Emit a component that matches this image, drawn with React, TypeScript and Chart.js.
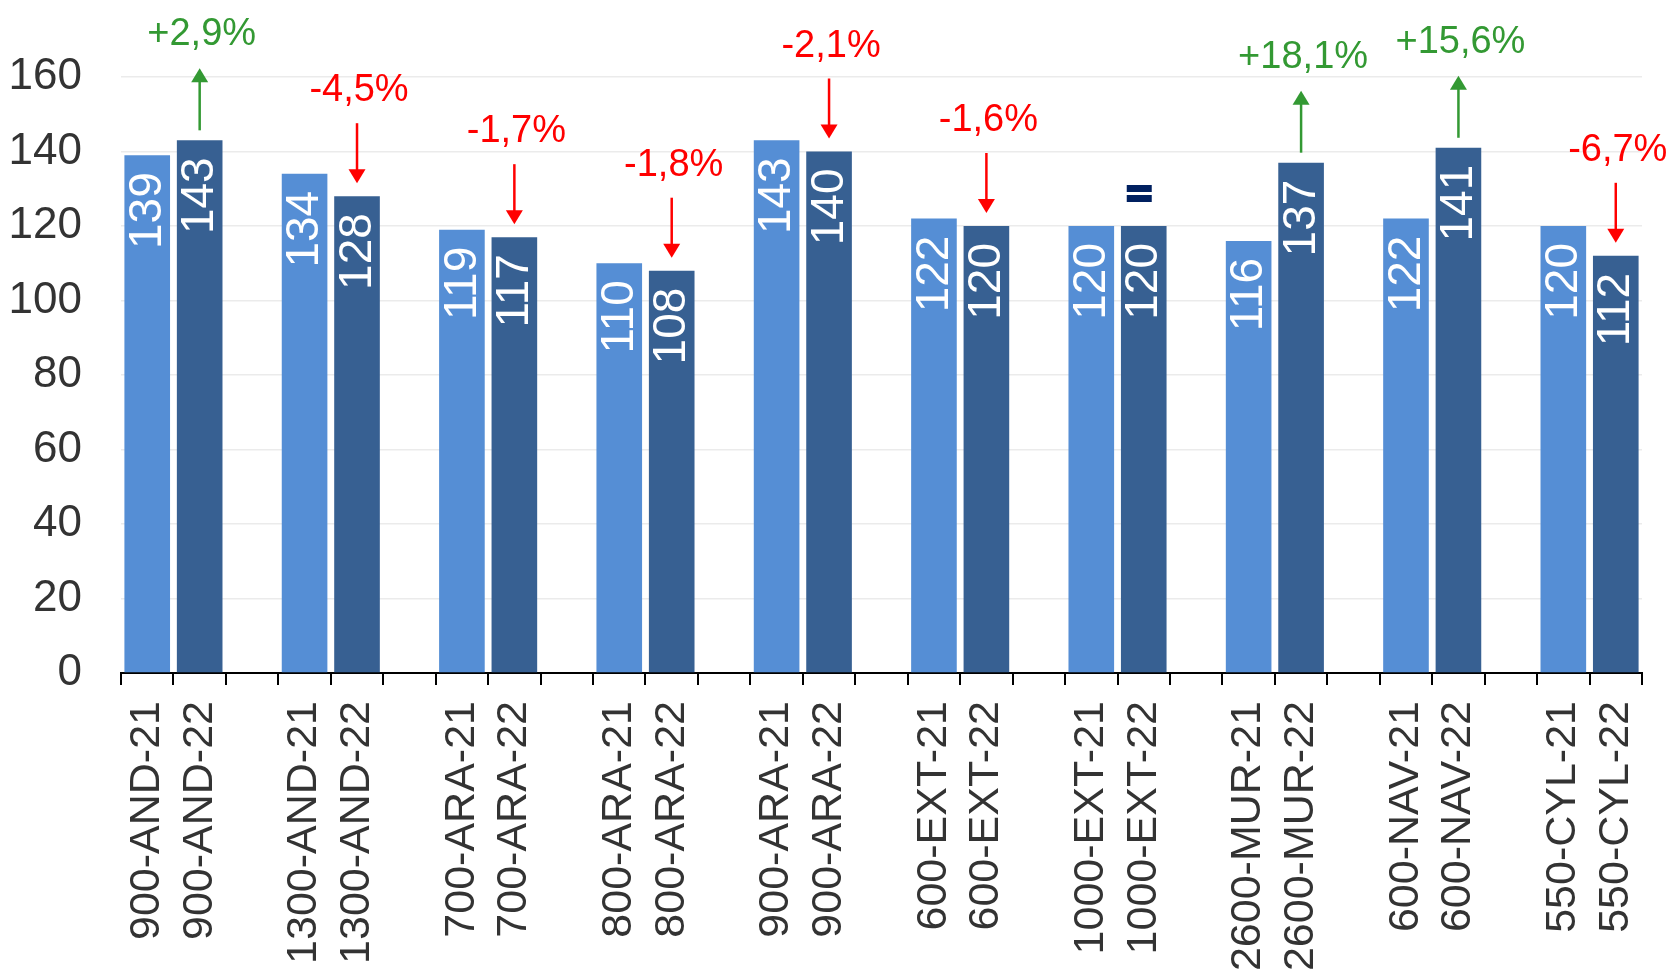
import React, { useEffect, useRef } from 'react';
import { Chart, registerables } from 'chart.js';

Chart.register(...registerables);

const groups = ['900-AND', '1300-AND', '700-ARA', '800-ARA', '900-ARA', '600-EXT', '1000-EXT', '2600-MUR', '600-NAV', '550-CYL'];
const values2021 = [139, 134, 119, 110, 143, 122, 120, 116, 122, 120];
const values2022 = [143, 128, 117, 108, 140, 120, 120, 137, 141, 112];
const changeLabels = ['+2,9%', '-4,5%', '-1,7%', '-1,8%', '-2,1%', '-1,6%', '=', '+18,1%', '+15,6%', '-6,7%'];
const yMin = 0;
const yMax = 160;
const yStep = 20;

const FONT = '"Liberation Sans", Arial, Helvetica, sans-serif';
const COLOR_21 = '#558ED5';
const COLOR_22 = '#376092';

// build slot-based category axis: 21, 22, blank, ...
const labels: string[] = [];
const data21: (number | null)[] = [];
const data22: (number | null)[] = [];
groups.forEach((g, i) => {
  labels.push(`${g}-21`);
  data21.push(values2021[i]);
  data22.push(null);
  labels.push(`${g}-22`);
  data21.push(null);
  data22.push(values2022[i]);
  if (i < groups.length - 1) {
    labels.push('');
    data21.push(null);
    data22.push(null);
  }
});

const valueLabelPlugin = {
  id: 'valueLabels',
  afterDatasetsDraw(chart: any) {
    const ctx = chart.ctx;
    ctx.save();
    ctx.fillStyle = '#ffffff';
    ctx.font = `46px ${FONT}`;
    ctx.textAlign = 'right';
    ctx.textBaseline = 'middle';
    chart.data.datasets.forEach((ds: any, di: number) => {
      const meta = chart.getDatasetMeta(di);
      meta.data.forEach((el: any, idx: number) => {
        const v = ds.data[idx];
        if (v === null || v === undefined) return;
        ctx.save();
        ctx.translate(el.x + 1, el.y + 17);
        ctx.rotate(-Math.PI / 2);
        ctx.fillText(String(v), 0, 0);
        ctx.restore();
      });
    });
    ctx.restore();
  },
};

const changePlugin = {
  id: 'changeArrows',
  afterDatasetsDraw(chart: any) {
    const ctx = chart.ctx;
    const meta = chart.getDatasetMeta(1);
    ctx.save();
    changeLabels.forEach((lab, i) => {
      const el = meta.data[i * 3 + 1];
      if (!el) return;
      const x = el.x;
      const top = el.y;
      if (lab === '=') {
        ctx.fillStyle = '#002060';
        ctx.fillRect(x - 17, top - 41, 25, 7);
        ctx.fillRect(x - 17, top - 31, 25, 7);
        return;
      }
      const up = lab.startsWith('+');
      const color = up ? '#339933' : '#FF0000';
      ctx.strokeStyle = color;
      ctx.fillStyle = color;
      ctx.lineWidth = 2.5;
      const headH = 14;
      const headW = 17;
      let textY: number;
      if (up) {
        const tail = top - 10;
        const tip = tail - 62;
        ctx.beginPath();
        ctx.moveTo(x, tail);
        ctx.lineTo(x, tip + headH - 1);
        ctx.stroke();
        ctx.beginPath();
        ctx.moveTo(x, tip);
        ctx.lineTo(x - headW / 2, tip + headH);
        ctx.lineTo(x + headW / 2, tip + headH);
        ctx.closePath();
        ctx.fill();
        textY = tip - 23;
      } else {
        const tip = top - 13;
        const tail = tip - 60;
        ctx.beginPath();
        ctx.moveTo(x, tail);
        ctx.lineTo(x, tip - headH + 1);
        ctx.stroke();
        ctx.beginPath();
        ctx.moveTo(x, tip);
        ctx.lineTo(x - headW / 2, tip - headH);
        ctx.lineTo(x + headW / 2, tip - headH);
        ctx.closePath();
        ctx.fill();
        textY = tail - 22;
      }
      ctx.font = `38px ${FONT}`;
      ctx.textAlign = 'center';
      ctx.textBaseline = 'alphabetic';
      ctx.fillText(lab, x + 2, textY);
    });
    ctx.restore();
  },
};

export default function App() {
  const canvasRef = useRef<HTMLCanvasElement | null>(null);

  useEffect(() => {
    if (!canvasRef.current) return;
    const chart = new Chart(canvasRef.current, {
      type: 'bar',
      data: {
        labels,
        datasets: [
          {
            label: '2021',
            data: data21,
            backgroundColor: COLOR_21,
            borderWidth: 0,
            grouped: false,
            categoryPercentage: 1,
            barPercentage: 0.87,
          } as any,
          {
            label: '2022',
            data: data22,
            backgroundColor: COLOR_22,
            borderWidth: 0,
            grouped: false,
            categoryPercentage: 1,
            barPercentage: 0.87,
          } as any,
        ],
      },
      options: {
        responsive: false,
        animation: false,
        layout: { padding: { left: 0, top: 77, right: 25, bottom: 0 } },
        plugins: {
          legend: { display: false },
          tooltip: { enabled: false },
          title: { display: false },
        },
        scales: {
          x: {
            type: 'category',
            offset: true,
            grid: {
              display: true,
              drawOnChartArea: false,
              drawTicks: true,
              tickLength: 12,
              color: '#000000',
              lineWidth: 2,
              offset: true,
            },
            border: { display: true, color: '#000000', width: 2 },
            ticks: {
              autoSkip: false,
              minRotation: 90,
              maxRotation: 90,
              padding: 16,
              color: '#333333',
              font: { family: FONT, size: 43 },
            },
            afterFit: (scale: any) => {
              scale.height = 297;
              scale.paddingLeft = 0;
              scale.paddingRight = 0;
            },
          } as any,
          y: {
            min: yMin,
            max: yMax,
            ticks: {
              stepSize: yStep,
              padding: 39,
              color: '#333333',
              font: { family: FONT, size: 44 },
            },
            grid: {
              color: '#ebebeb',
              lineWidth: 1.5,
              drawTicks: false,
            },
            border: { display: false },
            afterFit: (scale: any) => {
              scale.width = 121;
            },
          } as any,
        },
      },
      plugins: [valueLabelPlugin, changePlugin],
    });
    return () => chart.destroy();
  }, []);

  return (
    <div style={{ position: 'fixed', left: 0, top: 0, width: 1667, height: 970, background: '#ffffff', overflow: 'hidden' }}>
      <canvas ref={canvasRef} width={1667} height={970} style={{ display: 'block', width: 1667, height: 970 }} />
    </div>
  );
}
